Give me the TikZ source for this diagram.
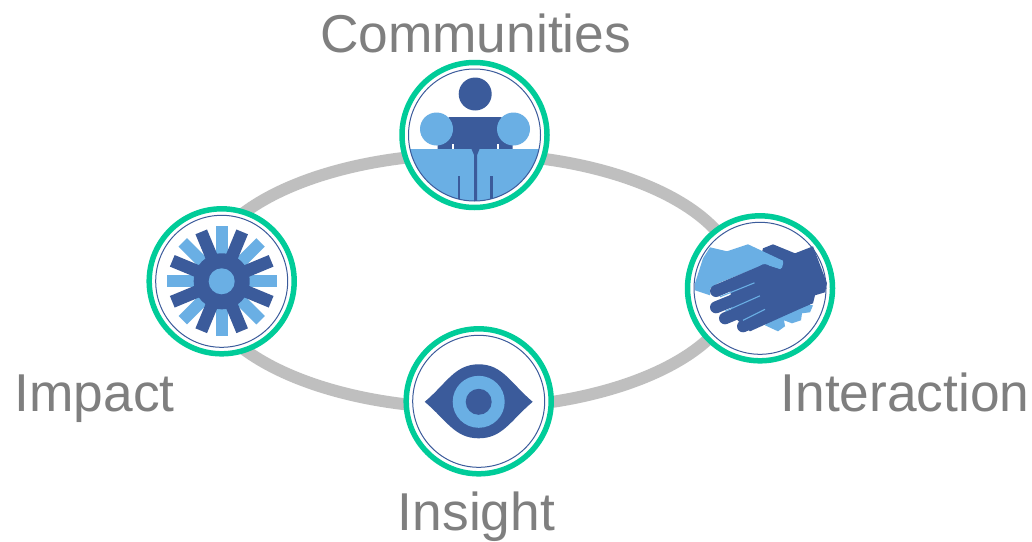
\documentclass[tikz,border=0pt]{standalone}
\usepackage{fontspec}
\setmainfont{Liberation Sans}
\definecolor{dk}{HTML}{3B5B9B}
\definecolor{lt}{HTML}{6AAFE4}
\definecolor{grn}{HTML}{00CC99}
\definecolor{ringgray}{HTML}{BFBFBF}
\definecolor{txt}{HTML}{7F7F7F}
\tikzset{
  badge/.style={circle,draw=grn,line width=5.5pt,fill=white,minimum size=145pt,inner sep=0pt},
  inring/.style={draw=dk,line width=1pt},
  lbl/.style={text=txt,font=\fontsize{53.3}{60}\selectfont,anchor=base,inner sep=0pt},
  finger/.style={dk,line width=12pt,line cap=round},
  crease/.style={lt,line width=1.1pt},
}
\begin{document}
\begin{tikzpicture}[x=1pt,y=-1pt]
\useasboundingbox (0,0) rectangle (1032,541);
\fill[white] (0,0) rectangle (1032,541);
\draw[ringgray,line width=12pt] (470,281) ellipse [x radius=268pt,y radius=127pt];
\node[badge] (comm) at (474.5,135) {};
\node[badge] (inter) at (760,288.3) {};
\node[badge] (imp) at (221.7,281.3) {};
\node[badge] (ins) at (478.7,401.3) {};
% Communities icon
\begin{scope}[shift={(comm.center)}]
  \fill[dk] (-37,16) -- (-37,3) -- (-26,3) -- (-26,-18) -- (27,-18) -- (27,3) -- (38,3) -- (38,16) -- cycle;
  \fill[white] (-23,9) rectangle (-21,15);
  \fill[white] (22,9) rectangle (24,15);
  \fill[dk] (0.7,-41) circle (16.5);
  \fill[lt] (-38,-6) circle (16.5);
  \fill[lt] (39,-6) circle (16.5);
  \begin{scope}
    \clip (0,0) circle (66);
    \fill[lt] (-70,14) rectangle (70,70);
    \fill[dk] (-3,14) -- (5,14) -- (2.6,20) -- (2.6,70) -- (-0.4,70) -- (-0.4,20) -- cycle;
    \fill[dk] (-16.8,41) rectangle (-14.2,70);
    \fill[dk] (15.7,41) rectangle (18.3,70);
  \end{scope}
  \draw[inring] (0,0) circle (66);
\end{scope}
% Interaction icon
\begin{scope}[shift={(inter.center)}]
  \fill[lt] (53,17) -- (50,24) -- (42,25) -- (41,32) -- (32,35) -- (24,32) -- (25,38) -- (18,43) -- (5,37) -- (20,15) -- cycle;
  \fill[dk] (3,-40) -- (13,-44) -- (35,-35) -- (53,-42) -- (67,-5) -- (65,4) -- (55,7) -- (53,15) -- (20,28) -- (-5,-10) -- cycle;
  \fill[lt] (-65,-5) -- (-57,-30) -- (-50,-41) -- (-33,-37) -- (-12,-44) -- (22,-28) to[out=60,in=0] (20,-19) -- (5,-24) -- (-42,-5) -- (-50,0) -- (-50,7) -- (-65,2) -- cycle;
  \fill[dk] (-30,-4) -- (3,-24) -- (20,-19) -- (45,5) -- (50,16) -- (-10,43) -- (-28,27) -- cycle;
  \draw[finger] (-44,2.7) -- (5,-18);
  \draw[finger] (-44,19) -- (20,-7);
  \draw[finger] (-35,30) -- (25,5);
  \draw[finger] (-17,38) -- (35,15);
  \draw[crease] (-40,8.5) -- (-5.5,-5.5);
  \draw[crease] (-35,23) -- (0,7.5);
  \draw[crease] (-17,32) -- (5,21);
  \draw[inring] (0,0) circle (66);
\end{scope}
% Impact icon
\begin{scope}[shift={(imp.center)}]
  \foreach \a in {0,45,...,315}
    \draw[lt,line width=12pt,line cap=butt] (\a:27) -- (\a:55);
  \foreach \a in {22.5,67.5,...,360}
    \draw[dk,line width=12.5pt,line cap=butt] (\a:20) -- (\a:53.5);
  \fill[dk] (0,0) circle (28);
  \fill[lt] (0,0) circle (13);
  \draw[inring] (0,0) circle (66);
\end{scope}
% Insight icon
\begin{scope}[shift={(ins.center)}]
  \fill[dk] (-54,0.5) .. controls (-32,-18) and (-24,-37) .. (0,-37) .. controls (24,-37) and (32,-18) .. (54,0.5) .. controls (32,19) and (24,37) .. (0,37) .. controls (-24,37) and (-32,19) .. (-54,0.5) -- cycle;
  \fill[lt] (0,0.5) circle (26);
  \fill[dk] (0,0.5) circle (13);
  \draw[inring] (0,0) circle (66);
\end{scope}
% Labels
\node[lbl] (lcomm) at (475.5,52) {Communities};
\node[lbl] (linter) at (905,411) {Interaction};
\node[lbl] (limp) at (94.5,411) {Impact};
\node[lbl] (lins) at (476.5,530) {Insight};
\end{tikzpicture}
\end{document}
